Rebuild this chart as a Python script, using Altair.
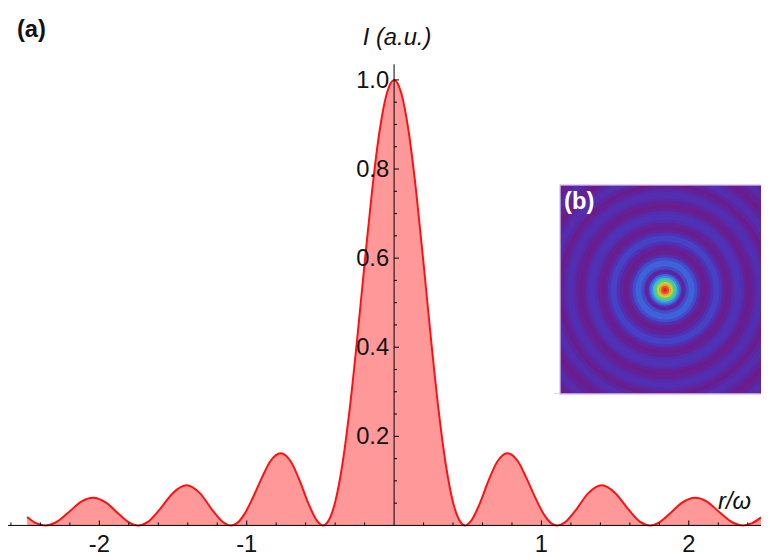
import altair as alt
import pandas as pd

# ---- main curve ----
r_vals = [-2.49, -2.43, -2.368, -2.30, -2.21, -2.12, -2.043, -1.95, -1.87, -1.80, -1.738,
          -1.67, -1.59, -1.50, -1.409, -1.32, -1.23, -1.16, -1.108, -1.07, -1.02, -0.96,
          -0.90, -0.84, -0.769, -0.70, -0.64, -0.58, -0.52, -0.483, -0.45, -0.40, -0.35,
          -0.30, -0.25, -0.20, -0.15, -0.10, -0.05, 0.0,
          0.05, 0.10, 0.15, 0.20, 0.25, 0.30, 0.35, 0.40, 0.45, 0.483, 0.52, 0.58, 0.64,
          0.70, 0.769, 0.84, 0.90, 0.96, 1.02, 1.07, 1.108, 1.16, 1.23, 1.32, 1.409, 1.50,
          1.59, 1.67, 1.738, 1.80, 1.87, 1.95, 2.043, 2.12, 2.21, 2.30, 2.368, 2.43, 2.49]
i_vals = [0.019, 0.005, 0.0, 0.006, 0.029, 0.054, 0.062, 0.050, 0.026, 0.007, 0.0,
          0.008, 0.036, 0.073, 0.090, 0.073, 0.033, 0.007, 0.0, 0.004, 0.023, 0.061,
          0.105, 0.144, 0.162, 0.143, 0.100, 0.048, 0.009, 0.0, 0.008, 0.052, 0.139,
          0.265, 0.420, 0.588, 0.749, 0.882, 0.969, 1.0,
          0.969, 0.882, 0.749, 0.588, 0.420, 0.265, 0.139, 0.052, 0.008, 0.0, 0.009, 0.048, 0.100,
          0.143, 0.162, 0.144, 0.105, 0.061, 0.023, 0.004, 0.0, 0.007, 0.033, 0.073, 0.090, 0.073,
          0.036, 0.008, 0.0, 0.007, 0.026, 0.050, 0.062, 0.054, 0.029, 0.006, 0.0, 0.005, 0.018]

# ---- axes ----
x_major = [-2, -1, 1, 2]
x_major_labels = ["-2", "-1", "1", "2"]
x_minor = [-2.6, -2.4, -2.2, -1.8, -1.6, -1.4, -1.2, -0.8, -0.6, -0.4, -0.2,
           0.2, 0.4, 0.6, 0.8, 1.2, 1.4, 1.6, 1.8, 2.2, 2.4]
y_major = [0.2, 0.4, 0.6, 0.8, 1.0]
y_major_labels = ["0.2", "0.4", "0.6", "0.8", "1.0"]
y_minor = [0.05, 0.1, 0.15, 0.25, 0.3, 0.35, 0.45, 0.5, 0.55, 0.65, 0.7, 0.75,
           0.85, 0.9, 0.95]

# ---- inset (b): ring radius (px from centre) and colour level ----
ring_radius = [154, 151, 148, 145, 142, 139, 136, 133,
               130, 127, 124, 121, 118, 115, 112,
               108, 105, 102, 99, 96, 93, 90,
               86, 83, 80, 77, 74, 71, 68,
               64, 61, 58, 55, 52, 49, 46,
               42, 39, 36, 33, 30, 27, 24, 21,
               19.5, 18, 16, 14, 12, 10, 8, 6, 4, 2]
ring_level = [0.08, 0.03, 0.01, 0.05, 0.10, 0.14, 0.14, 0.10,
              0.05, 0.01, 0.05, 0.11, 0.15, 0.15, 0.11,
              0.01, 0.06, 0.12, 0.16, 0.16, 0.12, 0.06,
              0.01, 0.07, 0.14, 0.18, 0.18, 0.14, 0.07,
              0.01, 0.09, 0.17, 0.23, 0.23, 0.17, 0.09,
              0.01, 0.05, 0.15, 0.25, 0.32, 0.32, 0.25, 0.12,
              0.03, 0.16, 0.32, 0.44, 0.56, 0.66, 0.76, 0.86, 0.95, 1.0]
level_stops = [0.0, 0.10, 0.20, 0.30, 0.45, 0.55, 0.65, 0.78, 0.88, 1.0]
level_colors = ["#6c1b88", "#5e24a0", "#4a37be", "#3e5cd6", "#3a90e2",
                "#38c0d0", "#5ccc70", "#d0d830", "#f08a28", "#e8202c"]

W, H = 761, 466
FONT = "Liberation Sans"
XMIN, XMAX, YMAX = -2.62, 2.49, 1.035
xs = alt.Scale(domain=[XMIN, XMAX], nice=False, zero=False)
ys = alt.Scale(domain=[0, YMAX], nice=False, zero=False)


def X(v):
    return alt.XDatum(v, scale=xs, axis=None)


def Y(v):
    return alt.YDatum(v, scale=ys, axis=None)


curve = pd.DataFrame({"r": r_vals, "I": i_vals})
one = pd.DataFrame({"a": [0]})

# inset centre in plot pixels
CX, CY = 664, 228
rings = pd.DataFrame({"radius": ring_radius, "level": ring_level})
rings["box"] = (2 * rings["radius"]) ** 2   # symbol size = area of bounding square

ring_layer = alt.Chart(rings).mark_circle(opacity=1, strokeWidth=0).encode(
    x=alt.value(CX), y=alt.value(CY),
    size=alt.Size("box:Q", scale=None),
    color=alt.Color("level:Q", scale=alt.Scale(domain=level_stops, range=level_colors,
                                                interpolate="rgb"), legend=None),
)


def mask(x1, x2, y1, y2):
    return alt.Chart(one).mark_rect(color="white", strokeWidth=0).encode(
        x=alt.value(x1), x2=alt.value(x2), y=alt.value(y1), y2=alt.value(y2))


masks = [mask(495, 775, 55, 122), mask(495, 775, 333, 392), mask(495, 558, 122, 333)]

border = alt.Chart(one).mark_rect(fillOpacity=0, stroke="#c9a8e4", strokeWidth=1.2).encode(
    x=alt.value(558), x2=alt.value(770), y=alt.value(122), y2=alt.value(333))

b_label = alt.Chart(one).mark_text(text="(b)", font=FONT, fontSize=24, fontWeight="bold",
                                   color="white", align="left", baseline="alphabetic").encode(
    x=alt.value(562), y=alt.value(146))

area = alt.Chart(curve).mark_area(color="#ff9999", opacity=1, interpolate="monotone").encode(
    x=alt.X("r:Q", scale=xs, axis=None), y=alt.Y("I:Q", scale=ys, axis=None))
line = alt.Chart(curve).mark_line(color="#ff1111", strokeWidth=2, interpolate="monotone").encode(
    x=alt.X("r:Q", scale=xs, axis=None), y=alt.Y("I:Q", scale=ys, axis=None))

x_axis = alt.Chart(one).mark_rule(color="black", strokeWidth=1).encode(
    x=X(XMIN), x2=alt.X2Datum(XMAX), y=Y(0))
y_axis = alt.Chart(one).mark_rule(color="black", strokeWidth=1).encode(
    x=X(0), y=Y(0), y2=alt.Y2Datum(YMAX))

xmaj = pd.DataFrame({"t": x_major, "lab": x_major_labels})
xmin = pd.DataFrame({"t": x_minor})
ymaj = pd.DataFrame({"t": y_major, "lab": y_major_labels})
ymin = pd.DataFrame({"t": y_minor})

xmaj_ticks = alt.Chart(xmaj).mark_rule(color="black", y2Offset=-5).encode(
    x=alt.X("t:Q", scale=xs, axis=None), y=Y(0), y2=alt.Y2Datum(0))
xmin_ticks = alt.Chart(xmin).mark_rule(color="black", y2Offset=-3).encode(
    x=alt.X("t:Q", scale=xs, axis=None), y=Y(0), y2=alt.Y2Datum(0))
ymaj_ticks = alt.Chart(ymaj).mark_rule(color="black", x2Offset=5).encode(
    y=alt.Y("t:Q", scale=ys, axis=None), x=X(0), x2=alt.X2Datum(0))
ymin_ticks = alt.Chart(ymin).mark_rule(color="black", x2Offset=3).encode(
    y=alt.Y("t:Q", scale=ys, axis=None), x=X(0), x2=alt.X2Datum(0))

x_labels = alt.Chart(xmaj).mark_text(font=FONT, fontSize=24, color="#111111", align="center",
                                     baseline="alphabetic", dy=27).encode(
    x=alt.X("t:Q", scale=xs, axis=None), y=Y(0), text="lab:N")
y_labels = alt.Chart(ymaj).mark_text(font=FONT, fontSize=24, color="#111111", align="right",
                                     baseline="middle", dx=-5, dy=1).encode(
    y=alt.Y("t:Q", scale=ys, axis=None), x=X(0), text="lab:N")

a_label = alt.Chart(one).mark_text(text="(a)", font=FONT, fontSize=24, fontWeight="bold",
                                   color="#111111", align="left", baseline="alphabetic").encode(
    x=alt.value(9), y=alt.value(-28))
i_label = alt.Chart(one).mark_text(text="I (a.u.)", font=FONT, fontSize=24, fontStyle="italic",
                                   color="#111111", align="center", baseline="alphabetic", dx=3).encode(
    x=X(0), y=alt.value(-20))
r_label = alt.Chart(one).mark_text(text="r/ω", font=FONT, fontSize=24, fontStyle="italic",
                                   color="#111111", align="right", baseline="alphabetic").encode(
    x=alt.value(751), y=alt.value(449))

chart = alt.layer(
    ring_layer, *masks, border, b_label,
    area, line, x_axis, y_axis, xmaj_ticks, xmin_ticks, ymaj_ticks, ymin_ticks,
    x_labels, y_labels, a_label, i_label, r_label,
).properties(
    width=W, height=H,
    autosize=alt.AutoSizeParams(type="none"),
    padding={"left": 0, "top": 54, "right": 0, "bottom": 29},
    background="white",
).configure_view(stroke=None)

chart.save("out.html", embed_options={"renderer": "svg", "actions": False})
